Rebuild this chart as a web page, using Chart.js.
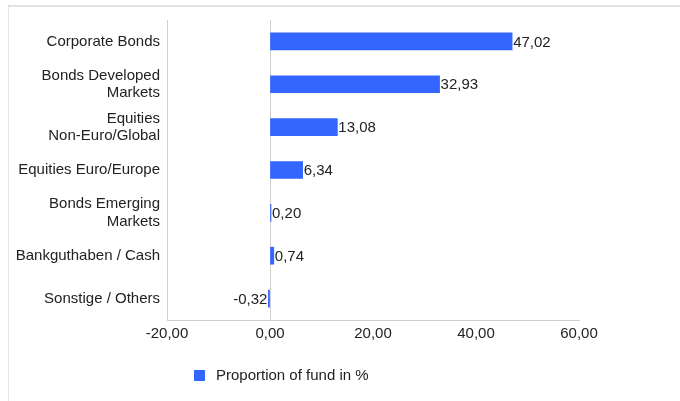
<!DOCTYPE html>
<html>
<head>
<meta charset="utf-8">
<script src="https://cdn.jsdelivr.net/npm/chart.js@4"></script>
<style>
html,body{margin:0;padding:0;background:#fff;}
#wrap{position:relative;width:680px;height:401px;overflow:hidden;}
#frame{position:absolute;left:8px;top:5px;width:680px;height:400px;border-left:1px solid #e2e2e2;border-top:2px solid #e2e2e2;}
canvas{position:absolute;left:0;top:0;}
</style>
</head>
<body>
<div id="wrap">
<div id="frame"></div>
<canvas id="c" width="680" height="401"></canvas>
</div>
<script>
const categories = [
  "Corporate Bonds",
  ["Bonds Developed", "Markets"],
  ["Equities", "Non-Euro/Global"],
  "Equities Euro/Europe",
  ["Bonds Emerging", "Markets"],
  "Bankguthaben / Cash",
  "Sonstige / Others"
];
const values = [47.02, 32.93, 13.08, 6.34, 0.20, 0.74, -0.32];
const seriesName = "Proportion of fund in %";
const axisMin = -20, axisMax = 60, axisStep = 20;

const barColor = "#3366ff";
const FONT = "Liberation Sans, Arial, sans-serif";
const FS = 15;
const fmt = v => v.toFixed(2).replace('.', ',');

const valueLabels = {
  id: 'valueLabels',
  afterDatasetsDraw(chart) {
    const ctx = chart.ctx;
    const meta = chart.getDatasetMeta(0);
    ctx.save();
    ctx.font = FS + "px " + FONT;
    ctx.fillStyle = "#222";
    ctx.textBaseline = "middle";
    meta.data.forEach((bar, i) => {
      const v = chart.data.datasets[0].data[i];
      if (v >= 0) { ctx.textAlign = "left"; ctx.fillText(fmt(v), bar.x + 1, bar.y + 1); }
      else { ctx.textAlign = "right"; ctx.fillText(fmt(v), bar.x - 1, bar.y + 1); }
    });
    ctx.restore();
  }
};

const manualLegend = {
  id: 'manualLegend',
  afterDraw(chart) {
    const ctx = chart.ctx;
    const ds = chart.data.datasets[0];
    ctx.save();
    ctx.fillStyle = ds.backgroundColor;
    ctx.fillRect(194, 370, 11, 11);
    ctx.font = FS + "px " + FONT;
    ctx.fillStyle = "#222";
    ctx.textAlign = "left";
    ctx.textBaseline = "middle";
    ctx.fillText(ds.label, 216, 376);
    ctx.restore();
  }
};

new Chart(document.getElementById('c'), {
  type: 'bar',
  data: {
    labels: categories,
    datasets: [{
      label: seriesName,
      data: values,
      backgroundColor: barColor,
      barThickness: 17
    }]
  },
  options: {
    indexAxis: 'y',
    responsive: false,
    animation: false,
    devicePixelRatio: 1,
    layout: { padding: { top: 20, right: 101, left: 0, bottom: 0 } },
    plugins: { legend: { display: false }, tooltip: { enabled: false } },
    scales: {
      x: {
        min: axisMin, max: axisMax,
        afterFit(s) { s.height = 81; },
        ticks: {
          stepSize: axisStep,
          color: "#222",
          font: { size: FS, family: FONT },
          padding: 5,
          callback: v => fmt(v)
        },
        grid: {
          drawTicks: false,
          color: ctx => (ctx.tick && ctx.tick.value === 0) ? "#d0d0d0" : "rgba(0,0,0,0)"
        },
        border: { display: true, color: "#d0d0d0" }
      },
      y: {
        afterFit(s) { s.width = 167; },
        ticks: {
          color: "#222",
          font: { size: FS, family: FONT, lineHeight: 1.15 },
          padding: 7
        },
        grid: { display: false, drawTicks: false },
        border: { display: true, color: "#d0d0d0" }
      }
    }
  },
  plugins: [valueLabels, manualLegend]
});
</script>
</body>
</html>
